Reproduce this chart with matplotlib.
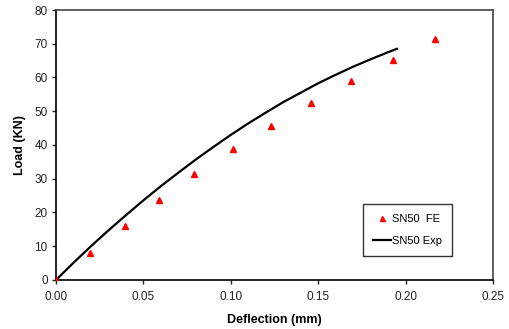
import matplotlib
matplotlib.use("Agg")
import matplotlib.pyplot as plt

plt.rcParams['font.family'] = ['Liberation Sans', 'DejaVu Sans']

fe_x = [0.0, 0.0195, 0.0395, 0.059, 0.079, 0.101, 0.123, 0.146, 0.169, 0.193, 0.217]
fe_y = [0.0, 8.0, 16.0, 23.8, 31.4, 38.8, 45.6, 52.4, 59.0, 65.2, 71.4]

exp_x = [0.0, 0.01, 0.02, 0.03, 0.04, 0.05, 0.06, 0.07, 0.08, 0.09, 0.10,
         0.11, 0.12, 0.13, 0.14, 0.15, 0.16, 0.17, 0.18, 0.19, 0.195]
exp_y = [0.0, 5.1, 10.0, 14.7, 19.2, 23.6, 27.8, 31.8, 35.7, 39.4, 43.0,
         46.4, 49.6, 52.7, 55.5, 58.3, 60.8, 63.2, 65.4, 67.5, 68.5]

xticks = [0.00, 0.05, 0.10, 0.15, 0.20, 0.25]
yticks = [0, 10, 20, 30, 40, 50, 60, 70, 80]

fig = plt.figure(figsize=(5.10, 3.29), dpi=100)
ax = fig.add_axes([0.1098, 0.149, 0.8569, 0.8206])

ax.plot(fe_x, fe_y, linestyle='none', marker='^', color='#ff0000',
        markersize=4.5, label='SN50  FE', zorder=3)
ax.plot(exp_x, exp_y, color='black', linewidth=1.6, label='SN50 Exp', zorder=2,
        solid_joinstyle='round')

ax.set_xlim(0, 0.25)
ax.set_ylim(0, 80)
ax.set_xticks(xticks)
ax.set_xticklabels([f"{t:.2f}" for t in xticks])
ax.set_yticks(yticks)
ax.tick_params(axis='x', direction='out', length=3, width=1, labelsize=8.5, colors='#222222', pad=5)
ax.tick_params(axis='y', direction='out', length=3, width=1, labelsize=8.5, colors='#222222', pad=3)
ax.set_xlabel('Deflection (mm)', fontsize=9, fontweight='bold', labelpad=8)
ax.set_ylabel('Load (KN)', fontsize=9, fontweight='bold', labelpad=6)

for side in ['left', 'bottom']:
    ax.spines[side].set_color('black')
    ax.spines[side].set_linewidth(1.2)
for side in ['top', 'right']:
    ax.spines[side].set_color('#444444')
    ax.spines[side].set_linewidth(1.2)

leg = ax.legend(loc='upper left', bbox_to_anchor=(0.702, 0.282), fontsize=8,
                frameon=True, fancybox=False, edgecolor='black',
                handlelength=1.6, handletextpad=0.15, borderpad=0.9,
                labelspacing=1.1, markerscale=0.8, borderaxespad=0.0)
leg.get_frame().set_linewidth(1.0)

fig.savefig('out.png', dpi=100)
